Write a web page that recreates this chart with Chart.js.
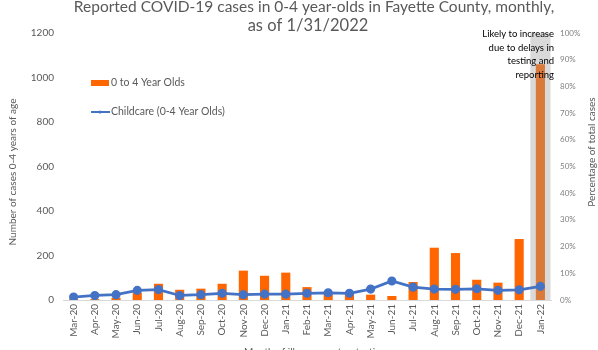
<!DOCTYPE html>
<html>
<head>
<meta charset="utf-8">
<script src="https://cdn.jsdelivr.net/npm/chart.js@4.4.1/dist/chart.umd.min.js"></script>
<style>
  html, body { margin: 0; padding: 0; background: #fff; }
  #wrap { width: 598px; height: 350px; position: relative; }
</style>
</head>
<body>
<div id="wrap"><canvas id="chart"></canvas></div>
<script>
const months = ['Mar-20', 'Apr-20', 'May-20', 'Jun-20', 'Jul-20', 'Aug-20', 'Sep-20', 'Oct-20', 'Nov-20', 'Dec-20', 'Jan-21',
    'Feb-21', 'Mar-21', 'Apr-21', 'May-21', 'Jun-21', 'Jul-21', 'Aug-21', 'Sep-21', 'Oct-21', 'Nov-21', 'Dec-21', 'Jan-22'];
const cases = [4, 4, 10, 33, 73, 46, 51, 73, 132, 109, 123, 58, 30, 28, 24, 18, 81, 235, 211, 91, 78, 274, 1060];
const childcarePct = [1.1, 1.7, 2.0, 3.6, 3.9, 1.7, 2.0, 2.5, 2.0, 2.2, 2.2, 2.5, 2.7, 2.5, 4.1, 7.1, 4.8, 4.1, 4.0, 4.2, 3.6, 3.8, 5.1];
// grey band behind the incomplete last month
const incomplete = [null, null, null, null, null, null, null, null, null, null, null,
    null, null, null, null, null, null, null, null, null, null, null, 100];

const FONT = 'Lato, "Open Sans", sans-serif';
const GREY = '#595959';

const barColors = cases.map((v, i) => i === cases.length - 1 ? '#D97A3A' : '#FF6600');

// titles, legend and note drawn on top
const textPlugin = {
    id: 'texts',
    afterDraw(chart) {
        const ctx = chart.ctx;
        const area = chart.chartArea;
        ctx.save();

        // chart title
        ctx.fillStyle = GREY;
        ctx.textAlign = 'center';
        ctx.textBaseline = 'alphabetic';
        ctx.font = '15.5px ' + FONT;
        ctx.fillText('Reported COVID-19 cases in 0-4 year-olds in Fayette County, monthly,', 314, 12);
        ctx.font = '16.5px ' + FONT;
        ctx.fillText('as of 1/31/2022', 308, 31);

        // legend
        ctx.font = '10.5px ' + FONT;
        ctx.textAlign = 'left';
        ctx.textBaseline = 'middle';
        ctx.fillStyle = '#FF6600';
        ctx.fillRect(91, 80, 18, 6);
        ctx.fillStyle = GREY;
        ctx.fillText('0 to 4 Year Olds', 111, 83);
        ctx.strokeStyle = '#4472C4';
        ctx.lineWidth = 2;
        ctx.beginPath();
        ctx.moveTo(91, 112);
        ctx.lineTo(110, 112);
        ctx.stroke();
        ctx.fillStyle = '#4472C4';
        ctx.beginPath();
        ctx.arc(100, 112, 1.5, 0, Math.PI * 2);
        ctx.fill();
        ctx.fillStyle = GREY;
        ctx.fillText('Childcare (0-4 Year Olds)', 111, 112);

        // note about the last month
        ctx.fillStyle = '#000';
        ctx.font = '9.5px ' + FONT;
        ctx.textAlign = 'right';
        const note = ['Likely to increase', 'due to delays in', 'testing and', 'reporting'];
        note.forEach((t, i) => ctx.fillText(t, 554, 34 + i * 13.5));

        // axis titles
        ctx.fillStyle = GREY;
        ctx.font = '10px ' + FONT;
        ctx.textAlign = 'center';
        ctx.save();
        ctx.translate(13, 172);
        ctx.rotate(-Math.PI / 2);
        ctx.fillText('Number of cases 0-4 years of age', 0, 0);
        ctx.restore();
        ctx.save();
        ctx.translate(592, 152);
        ctx.rotate(-Math.PI / 2);
        ctx.fillText('Percentage of total cases', 0, 0);
        ctx.restore();
        ctx.textBaseline = 'alphabetic';
        ctx.fillText('Month of illness onset or testing', (area.left + area.right) / 2 + 8, 355);

        ctx.restore();
    }
};

new Chart(document.getElementById('chart'), {
    type: 'bar',
    data: {
        labels: months,
        datasets: [
            {
                type: 'line',
                label: 'Childcare (0-4 Year Olds)',
                data: childcarePct,
                yAxisID: 'y1',
                borderColor: '#4472C4',
                backgroundColor: '#4472C4',
                borderWidth: 2.75,
                pointRadius: 3.2,
                pointHoverRadius: 3.2,
                tension: 0,
                order: 1
            },
            {
                label: '0 to 4 Year Olds',
                data: cases,
                yAxisID: 'y',
                backgroundColor: barColors,
                grouped: false,
                categoryPercentage: 1,
                barPercentage: 0.43,
                order: 2
            },
            {
                label: 'incomplete',
                data: incomplete,
                yAxisID: 'y1',
                backgroundColor: '#D9D9D9',
                grouped: false,
                categoryPercentage: 1,
                barPercentage: 0.95,
                order: 3
            }
        ]
    },
    options: {
        responsive: true,
        maintainAspectRatio: false,
        animation: false,
        layout: { padding: { top: 33, left: 0, right: 0, bottom: 0 } },
        plugins: {
            legend: { display: false },
            title: { display: false },
            tooltip: { enabled: false }
        },
        scales: {
            x: {
                grid: { display: false, drawTicks: false },
                border: { display: true, color: '#D9D9D9', width: 1 },
                ticks: {
                    color: GREY,
                    font: { family: FONT, size: 10 },
                    minRotation: 90,
                    maxRotation: 90,
                    autoSkip: false,
                    padding: 4
                },
                afterFit(scale) { scale.height = 50; }
            },
            y: {
                position: 'left',
                min: 0,
                max: 1200,
                grid: { display: false, drawTicks: false },
                border: { display: false },
                ticks: {
                    stepSize: 200,
                    color: GREY,
                    font: { family: FONT, size: 10 },
                    padding: 9,
                    callback: v => String(v)
                },
                afterFit(scale) { scale.width = 63; }
            },
            y1: {
                position: 'right',
                min: 0,
                max: 100,
                grid: { display: false, drawTicks: false },
                border: { display: false },
                ticks: {
                    stepSize: 10,
                    color: '#808080',
                    font: { family: FONT, size: 8 },
                    padding: 9,
                    callback: v => v + '%'
                },
                afterFit(scale) { scale.width = 47; }
            }
        }
    },
    plugins: [textPlugin]
});
</script>
</body>
</html>
